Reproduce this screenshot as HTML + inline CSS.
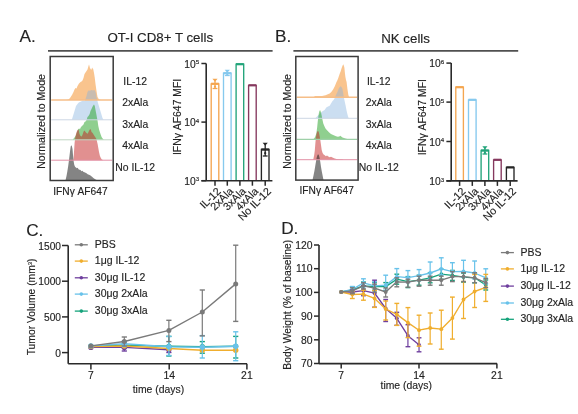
<!DOCTYPE html>
<html><head><meta charset="utf-8"><style>
html,body{margin:0;padding:0;background:#fff;width:578px;height:414px;overflow:hidden}
svg{display:block;filter:blur(0.35px)}
text{font-family:"Liberation Sans", sans-serif;stroke:#222;stroke-width:0.14px;paint-order:stroke}
</style></head><body>
<svg width="578" height="414" viewBox="0 0 578 414">
<rect width="578" height="414" fill="#fff"/>
<text x="19.5" y="42.3" font-size="17.2" text-anchor="start" fill="#222" >A.</text>
<text x="160.3" y="41.6" font-size="13.3" text-anchor="middle" fill="#222" >OT-I CD8+ T cells</text>
<line x1="48" y1="50.8" x2="272.6" y2="50.8" stroke="#505050" stroke-width="1.7" />
<text x="275" y="42.3" font-size="17.2" text-anchor="start" fill="#222" >B.</text>
<text x="405.6" y="42.8" font-size="13.3" text-anchor="middle" fill="#222" >NK cells</text>
<line x1="293.4" y1="50.9" x2="518.2" y2="50.9" stroke="#505050" stroke-width="1.7" />
<polygon points="66.0,100.0 66.0,100.0 68.6,99.5 70.0,98.0 72.0,95.0 73.5,92.0 74.5,89.5 75.5,88.0 76.5,88.5 77.5,86.0 79.0,83.5 80.5,82.0 81.5,81.5 82.5,80.5 83.5,78.0 84.5,74.0 85.5,72.5 86.5,71.0 87.5,69.5 88.5,66.0 89.0,64.5 89.6,66.5 90.3,69.5 91.0,68.0 91.8,70.0 92.5,67.5 93.3,69.5 94.0,73.0 94.8,78.0 95.5,84.0 96.5,91.0 97.5,97.0 99.0,99.5 101.0,100.0 101.0,100.0" fill="#F3891D" fill-opacity="0.5" stroke="none" stroke-width="0"/>
<polygon points="71.8,119.8 71.8,119.7 73.0,116.0 74.5,111.0 76.0,106.0 77.5,104.0 78.8,102.4 80.5,101.8 82.0,101.0 83.0,100.5 84.5,101.0 85.5,99.0 86.5,96.0 87.5,92.0 88.5,90.5 90.0,90.8 91.5,90.0 93.0,90.5 94.5,90.0 95.5,92.0 96.5,97.0 98.0,103.0 99.5,108.0 101.0,113.0 102.5,118.0 103.5,119.7 103.5,119.8" fill="#86B3DF" fill-opacity="0.43" stroke="none" stroke-width="0"/>
<polygon points="72.9,139.8 72.9,139.6 74.5,137.5 75.8,135.6 77.0,132.0 78.0,129.5 79.0,128.5 80.0,129.0 81.0,127.0 82.5,125.5 83.5,124.5 84.5,122.0 85.5,121.5 86.7,119.8 87.5,117.0 88.5,116.0 89.7,113.9 90.5,111.0 91.5,109.0 92.4,107.0 93.2,105.5 94.0,104.5 94.8,106.0 95.5,110.0 96.3,114.0 97.0,118.0 97.6,121.0 98.3,126.0 99.2,130.0 100.5,134.0 101.6,137.0 102.6,138.6 103.6,139.6 103.6,139.8" fill="#1F9F1F" fill-opacity="0.5" stroke="none" stroke-width="0"/>
<polygon points="73.5,160.2 73.5,160.0 74.0,152.0 74.6,143.0 75.2,138.0 76.0,134.0 76.8,131.5 77.6,130.0 78.6,129.5 79.5,134.0 80.5,136.0 81.8,136.6 82.8,134.0 83.6,131.5 84.6,130.5 85.5,132.0 86.5,133.0 87.7,133.7 88.7,131.5 89.8,129.5 90.8,129.3 91.5,132.0 92.6,133.0 93.7,134.7 94.8,136.5 95.8,138.0 96.6,139.8 97.6,144.0 98.3,148.0 99.0,152.0 99.8,155.5 100.6,157.6 101.6,159.3 102.8,160.0 102.8,160.2" fill="#C42222" fill-opacity="0.5" stroke="none" stroke-width="0"/>
<polygon points="65.5,180.5 65.5,180.2 66.5,176.0 67.4,171.0 68.2,166.0 69.0,160.0 69.6,155.0 70.2,150.0 70.7,146.5 71.3,145.3 71.9,146.2 72.5,149.0 73.0,155.0 73.6,161.0 74.3,165.0 75.2,167.0 76.0,167.5 76.8,168.3 77.7,167.8 78.5,169.3 79.5,169.8 80.5,170.0 81.5,171.2 82.5,170.7 83.5,172.0 84.5,172.3 85.5,172.8 86.5,173.3 87.7,174.2 89.0,174.8 90.5,175.6 92.0,176.8 93.7,178.2 95.2,179.3 97.0,180.2 97.0,180.5" fill="#262626" fill-opacity="0.57" stroke="none" stroke-width="0"/>
<line x1="51.2" y1="100" x2="112.2" y2="100" stroke="#F6BE88" stroke-width="1.4" />
<line x1="51.2" y1="119.8" x2="112.2" y2="119.8" stroke="#CCD6E4" stroke-width="1.0" />
<line x1="51.2" y1="139.8" x2="112.2" y2="139.8" stroke="#C0D6C4" stroke-width="1.0" />
<line x1="51.2" y1="160.2" x2="112.2" y2="160.2" stroke="#E290A6" stroke-width="1.0" />
<rect x="50.2" y="56.5" width="63" height="124" fill="none" stroke="#3a3a3a" stroke-width="1.5"/>
<polygon points="296.8,97.2 296.8,97.2 305.0,97.1 313.6,96.9 315.3,96.0 322.1,96.0 325.5,95.2 329.7,93.5 331.5,91.8 333.1,89.6 334.8,86.3 336.5,82.0 337.3,80.5 338.1,78.6 339.8,73.6 340.6,71.5 341.5,68.5 342.4,66.0 343.2,64.3 343.8,65.5 344.4,67.7 344.9,73.0 345.4,77.0 346.0,80.0 346.6,82.0 347.4,88.8 348.3,94.7 349.1,97.2 349.1,97.2" fill="#F3891D" fill-opacity="0.5" stroke="none" stroke-width="0"/>
<polygon points="315.3,118.3 315.3,118.3 318.5,115.0 322.1,111.6 324.6,109.9 326.3,107.4 328.0,106.5 329.7,105.7 331.0,103.5 332.2,101.5 333.5,100.0 334.8,98.1 336.0,95.0 337.3,92.2 338.2,90.0 339.0,87.9 339.8,87.0 340.7,86.3 341.5,87.0 342.4,88.8 343.1,92.5 343.7,96.4 344.3,99.5 344.9,102.3 345.8,106.5 346.6,110.7 347.5,114.5 348.3,117.5 349.1,118.3 349.1,118.3" fill="#86B3DF" fill-opacity="0.43" stroke="none" stroke-width="0"/>
<polygon points="313.2,139.4 313.2,139.4 314.5,138.0 315.5,136.0 316.4,133.0 317.1,128.0 317.7,122.0 318.3,117.0 318.9,113.0 319.5,110.8 320.2,110.2 320.9,112.0 321.5,114.7 322.3,119.0 323.3,123.5 324.3,126.0 325.5,128.5 326.8,130.1 328.2,131.5 329.5,132.8 331.0,134.0 332.6,134.8 334.3,135.5 336.0,136.3 337.8,136.7 339.3,136.5 340.3,135.8 341.2,136.6 342.5,137.5 344.0,138.0 346.1,138.8 349.0,139.2 353.8,139.4 353.8,139.4" fill="#1F9F1F" fill-opacity="0.5" stroke="none" stroke-width="0"/>
<polygon points="313.2,159.7 313.2,159.7 314.2,155.0 314.8,150.5 315.4,143.0 316.0,137.0 316.7,133.0 317.4,131.3 318.2,131.0 318.9,132.5 319.6,136.0 320.3,140.0 321.0,145.0 321.7,150.0 322.6,153.0 323.6,154.5 324.8,155.2 325.8,156.3 327.0,155.6 328.3,156.5 329.7,157.2 331.0,156.8 332.5,157.6 334.0,158.3 336.4,158.9 339.0,159.3 342.2,159.2 343.5,159.7 343.5,159.7" fill="#C42222" fill-opacity="0.5" stroke="none" stroke-width="0"/>
<polygon points="312.5,180.1 312.5,180.1 313.5,175.5 314.4,171.0 315.1,166.9 315.9,162.0 316.7,157.5 317.5,155.0 318.1,154.3 318.8,155.0 319.5,157.5 320.3,162.0 321.0,166.9 321.8,171.5 322.6,175.5 323.5,180.1 323.5,180.1" fill="#262626" fill-opacity="0.57" stroke="none" stroke-width="0"/>
<line x1="296.8" y1="97.2" x2="357.1" y2="97.2" stroke="#F6BE88" stroke-width="1.4" />
<line x1="296.8" y1="118.3" x2="357.1" y2="118.3" stroke="#CCD6E4" stroke-width="1.0" />
<line x1="296.8" y1="139.4" x2="357.1" y2="139.4" stroke="#9ED0A8" stroke-width="1.1" />
<line x1="296.8" y1="159.7" x2="357.1" y2="159.7" stroke="#E290A6" stroke-width="1.0" />
<rect x="295.8" y="56.5" width="62.3" height="123.6" fill="none" stroke="#3a3a3a" stroke-width="1.5"/>
<text x="135.2" y="85" font-size="10.4" text-anchor="middle" fill="#222" >IL-12</text>
<text x="135.2" y="106.1" font-size="10.4" text-anchor="middle" fill="#222" >2xAla</text>
<text x="135.2" y="127.8" font-size="10.4" text-anchor="middle" fill="#222" >3xAla</text>
<text x="135.2" y="148.6" font-size="10.4" text-anchor="middle" fill="#222" >4xAla</text>
<text x="135.2" y="170.7" font-size="10.4" text-anchor="middle" fill="#222" >No IL-12</text>
<text x="378.8" y="85" font-size="10.4" text-anchor="middle" fill="#222" >IL-12</text>
<text x="378.8" y="106.1" font-size="10.4" text-anchor="middle" fill="#222" >2xAla</text>
<text x="378.8" y="127.8" font-size="10.4" text-anchor="middle" fill="#222" >3xAla</text>
<text x="378.8" y="148.6" font-size="10.4" text-anchor="middle" fill="#222" >4xAla</text>
<text x="378.8" y="170.7" font-size="10.4" text-anchor="middle" fill="#222" >No IL-12</text>
<text x="45.3" y="121.4" font-size="10.6" text-anchor="middle" fill="#222" transform="rotate(-90 45.3 121.4)">Normalized to Mode</text>
<text x="290.9" y="121.4" font-size="10.6" text-anchor="middle" fill="#222" transform="rotate(-90 290.9 121.4)">Normalized to Mode</text>
<text x="80.4" y="194.5" font-size="10.2" text-anchor="middle" fill="#222" >IFNγ AF647</text>
<text x="326.7" y="194.0" font-size="10.2" text-anchor="middle" fill="#222" >IFNγ AF647</text>
<line x1="201.39999999999998" y1="63.5" x2="206.2" y2="63.5" stroke="#2a2a2a" stroke-width="1.5" />
<text x="199.2" y="67.8" font-size="10.3" text-anchor="end" fill="#222">10<tspan dy="-3.6" font-size="6.2">5</tspan></text>
<line x1="201.39999999999998" y1="122.1" x2="206.2" y2="122.1" stroke="#2a2a2a" stroke-width="1.5" />
<text x="199.2" y="126.39999999999999" font-size="10.3" text-anchor="end" fill="#222">10<tspan dy="-3.6" font-size="6.2">4</tspan></text>
<line x1="201.39999999999998" y1="180.7" x2="206.2" y2="180.7" stroke="#2a2a2a" stroke-width="1.5" />
<text x="199.2" y="185.0" font-size="10.3" text-anchor="end" fill="#222">10<tspan dy="-3.6" font-size="6.2">3</tspan></text>
<path d="M211.2,180.7 V83.8 H218.8 V180.7" fill="none" stroke="#F4A650" stroke-width="1.35"/>
<line x1="211.1" y1="83.8" x2="218.9" y2="83.8" stroke="#F4A650" stroke-width="2.2" />
<line x1="215" y1="79.5" x2="215" y2="88.5" stroke="#F4A650" stroke-width="1.3" />
<line x1="212.6" y1="88.5" x2="217.4" y2="88.5" stroke="#F4A650" stroke-width="1.3" />
<polygon points="212.4,78.7 217.6,78.7 215.0,81.7" fill="#F4A650"/>
<circle cx="215" cy="86.7" r="1.1" fill="#F4A650"/>
<line x1="215" y1="180.7" x2="215" y2="185.7" stroke="#2a2a2a" stroke-width="1.5" />
<path d="M223.5,180.7 V73.2 H231.10000000000002 V180.7" fill="none" stroke="#86C9EE" stroke-width="1.35"/>
<line x1="223.4" y1="73.2" x2="231.20000000000002" y2="73.2" stroke="#86C9EE" stroke-width="2.2" />
<line x1="227.3" y1="70.6" x2="227.3" y2="75.5" stroke="#86C9EE" stroke-width="1.3" />
<line x1="224.9" y1="75.5" x2="229.70000000000002" y2="75.5" stroke="#86C9EE" stroke-width="1.3" />
<polygon points="224.7,69.8 229.9,69.8 227.3,72.8" fill="#86C9EE"/>
<circle cx="227.3" cy="74.8" r="1.1" fill="#86C9EE"/>
<line x1="227.3" y1="180.7" x2="227.3" y2="185.7" stroke="#2a2a2a" stroke-width="1.5" />
<path d="M236.1,180.7 V64.2 H243.70000000000002 V180.7" fill="none" stroke="#22A47A" stroke-width="1.35"/>
<line x1="236.0" y1="64.2" x2="243.8" y2="64.2" stroke="#22A47A" stroke-width="2.2" />
<line x1="239.9" y1="180.7" x2="239.9" y2="185.7" stroke="#2a2a2a" stroke-width="1.5" />
<path d="M248.6,180.7 V85.3 H256.2 V180.7" fill="none" stroke="#86385E" stroke-width="1.35"/>
<line x1="248.5" y1="85.3" x2="256.3" y2="85.3" stroke="#86385E" stroke-width="2.2" />
<line x1="252.4" y1="180.7" x2="252.4" y2="185.7" stroke="#2a2a2a" stroke-width="1.5" />
<path d="M261.4,180.7 V149.5 H269.0 V180.7" fill="none" stroke="#262626" stroke-width="1.35"/>
<line x1="261.3" y1="149.5" x2="269.09999999999997" y2="149.5" stroke="#262626" stroke-width="2.2" />
<line x1="265.2" y1="143.5" x2="265.2" y2="156" stroke="#262626" stroke-width="1.3" />
<line x1="262.8" y1="156" x2="267.59999999999997" y2="156" stroke="#262626" stroke-width="1.3" />
<polygon points="262.6,142.7 267.8,142.7 265.2,145.7" fill="#262626"/>
<circle cx="265.2" cy="153.2" r="1.1" fill="#262626"/>
<line x1="265.2" y1="180.7" x2="265.2" y2="185.7" stroke="#2a2a2a" stroke-width="1.5" />
<line x1="206.2" y1="63.5" x2="206.2" y2="180.7" stroke="#2a2a2a" stroke-width="1.6" />
<line x1="201.39999999999998" y1="180.7" x2="272.4" y2="180.7" stroke="#2a2a2a" stroke-width="1.6" />
<text x="221.6" y="191.9" font-size="10.8" text-anchor="end" fill="#222" transform="rotate(-45 221.6 191.89999999999998)">IL-12</text>
<text x="233.9" y="191.9" font-size="10.8" text-anchor="end" fill="#222" transform="rotate(-45 233.9 191.89999999999998)">2xAla</text>
<text x="246.5" y="191.9" font-size="10.8" text-anchor="end" fill="#222" transform="rotate(-45 246.5 191.89999999999998)">3xAla</text>
<text x="259.0" y="191.9" font-size="10.8" text-anchor="end" fill="#222" transform="rotate(-45 259.0 191.89999999999998)">4xAla</text>
<text x="271.8" y="191.9" font-size="10.8" text-anchor="end" fill="#222" transform="rotate(-45 271.8 191.89999999999998)">No IL-12</text>
<text x="181.3" y="116.9" font-size="10.4" text-anchor="middle" fill="#222" transform="rotate(-90 181.3 116.9)">IFNγ AF647 MFI</text>
<line x1="446.4" y1="63.1" x2="451.2" y2="63.1" stroke="#2a2a2a" stroke-width="1.5" />
<text x="444.2" y="67.4" font-size="10.3" text-anchor="end" fill="#222">10<tspan dy="-3.6" font-size="6.2">6</tspan></text>
<line x1="446.4" y1="102.1" x2="451.2" y2="102.1" stroke="#2a2a2a" stroke-width="1.5" />
<text x="444.2" y="106.39999999999999" font-size="10.3" text-anchor="end" fill="#222">10<tspan dy="-3.6" font-size="6.2">5</tspan></text>
<line x1="446.4" y1="141.5" x2="451.2" y2="141.5" stroke="#2a2a2a" stroke-width="1.5" />
<text x="444.2" y="145.8" font-size="10.3" text-anchor="end" fill="#222">10<tspan dy="-3.6" font-size="6.2">4</tspan></text>
<line x1="446.4" y1="180.9" x2="451.2" y2="180.9" stroke="#2a2a2a" stroke-width="1.5" />
<text x="444.2" y="185.20000000000002" font-size="10.3" text-anchor="end" fill="#222">10<tspan dy="-3.6" font-size="6.2">3</tspan></text>
<path d="M455.8,180.9 V87.2 H463.40000000000003 V180.9" fill="none" stroke="#F4A650" stroke-width="1.35"/>
<line x1="455.70000000000005" y1="87.2" x2="463.5" y2="87.2" stroke="#F4A650" stroke-width="2.2" />
<line x1="459.6" y1="180.9" x2="459.6" y2="185.9" stroke="#2a2a2a" stroke-width="1.5" />
<path d="M468.5,180.9 V99.8 H476.1 V180.9" fill="none" stroke="#86C9EE" stroke-width="1.35"/>
<line x1="468.40000000000003" y1="99.8" x2="476.2" y2="99.8" stroke="#86C9EE" stroke-width="2.2" />
<line x1="472.3" y1="180.9" x2="472.3" y2="185.9" stroke="#2a2a2a" stroke-width="1.5" />
<path d="M481.09999999999997,180.9 V150.5 H488.7 V180.9" fill="none" stroke="#22A47A" stroke-width="1.35"/>
<line x1="481.0" y1="150.5" x2="488.79999999999995" y2="150.5" stroke="#22A47A" stroke-width="2.2" />
<line x1="484.9" y1="147" x2="484.9" y2="154" stroke="#22A47A" stroke-width="1.3" />
<line x1="482.5" y1="154" x2="487.29999999999995" y2="154" stroke="#22A47A" stroke-width="1.3" />
<polygon points="482.3,146.2 487.5,146.2 484.9,149.2" fill="#22A47A"/>
<circle cx="484.9" cy="152.8" r="1.1" fill="#22A47A"/>
<line x1="484.9" y1="180.9" x2="484.9" y2="185.9" stroke="#2a2a2a" stroke-width="1.5" />
<path d="M493.59999999999997,180.9 V159.8 H501.2 V180.9" fill="none" stroke="#86385E" stroke-width="1.35"/>
<line x1="493.5" y1="159.8" x2="501.29999999999995" y2="159.8" stroke="#86385E" stroke-width="2.2" />
<line x1="497.4" y1="180.9" x2="497.4" y2="185.9" stroke="#2a2a2a" stroke-width="1.5" />
<path d="M506.4,180.9 V167.4 H514.0 V180.9" fill="none" stroke="#262626" stroke-width="1.35"/>
<line x1="506.3" y1="167.4" x2="514.1" y2="167.4" stroke="#262626" stroke-width="2.2" />
<line x1="510.2" y1="180.9" x2="510.2" y2="185.9" stroke="#2a2a2a" stroke-width="1.5" />
<line x1="451.2" y1="63.1" x2="451.2" y2="180.9" stroke="#2a2a2a" stroke-width="1.6" />
<line x1="446.4" y1="180.9" x2="517.6" y2="180.9" stroke="#2a2a2a" stroke-width="1.6" />
<text x="466.2" y="192.1" font-size="10.8" text-anchor="end" fill="#222" transform="rotate(-45 466.20000000000005 192.1)">IL-12</text>
<text x="478.9" y="192.1" font-size="10.8" text-anchor="end" fill="#222" transform="rotate(-45 478.90000000000003 192.1)">2xAla</text>
<text x="491.5" y="192.1" font-size="10.8" text-anchor="end" fill="#222" transform="rotate(-45 491.5 192.1)">3xAla</text>
<text x="504.0" y="192.1" font-size="10.8" text-anchor="end" fill="#222" transform="rotate(-45 504.0 192.1)">4xAla</text>
<text x="516.8" y="192.1" font-size="10.8" text-anchor="end" fill="#222" transform="rotate(-45 516.8 192.1)">No IL-12</text>
<text x="425.7" y="117.2" font-size="10.4" text-anchor="middle" fill="#222" transform="rotate(-90 425.7 117.2)">IFNγ AF647 MFI</text>
<text x="26.2" y="235.6" font-size="17.2" text-anchor="start" fill="#222" >C.</text>
<line x1="68.2" y1="245.5" x2="68.2" y2="363.8" stroke="#2a2a2a" stroke-width="1.6" />
<line x1="68.2" y1="363.8" x2="247" y2="363.8" stroke="#2a2a2a" stroke-width="1.6" />
<line x1="62.0" y1="245.5" x2="68.2" y2="245.5" stroke="#2a2a2a" stroke-width="1.5" />
<text x="61.0" y="249.7" font-size="10.2" text-anchor="end" fill="#222" >1500</text>
<line x1="62.0" y1="281.2" x2="68.2" y2="281.2" stroke="#2a2a2a" stroke-width="1.5" />
<text x="61.0" y="285.4" font-size="10.2" text-anchor="end" fill="#222" >1000</text>
<line x1="62.0" y1="316.9" x2="68.2" y2="316.9" stroke="#2a2a2a" stroke-width="1.5" />
<text x="61.0" y="321.09999999999997" font-size="10.2" text-anchor="end" fill="#222" >500</text>
<line x1="62.0" y1="352.6" x2="68.2" y2="352.6" stroke="#2a2a2a" stroke-width="1.5" />
<text x="61.0" y="356.8" font-size="10.2" text-anchor="end" fill="#222" >0</text>
<line x1="90.9" y1="363.8" x2="90.9" y2="369.5" stroke="#2a2a2a" stroke-width="1.5" />
<text x="90.9" y="379.2" font-size="10.4" text-anchor="middle" fill="#222" >7</text>
<line x1="169.2" y1="363.8" x2="169.2" y2="369.5" stroke="#2a2a2a" stroke-width="1.5" />
<text x="169.2" y="379.2" font-size="10.4" text-anchor="middle" fill="#222" >14</text>
<line x1="246.9" y1="363.8" x2="246.9" y2="369.5" stroke="#2a2a2a" stroke-width="1.5" />
<text x="246.9" y="379.2" font-size="10.4" text-anchor="middle" fill="#222" >21</text>
<text x="158.4" y="393.4" font-size="10.4" text-anchor="middle" fill="#222" >time (days)</text>
<text x="35.5" y="306.9" font-size="10.3" text-anchor="middle" fill="#222" transform="rotate(-90 35.5 306.9)">Tumor Volume (mm<tspan dy="-3.5" font-size="6">3</tspan><tspan dy="3.5">)</tspan></text>
<line x1="74.8" y1="244.8" x2="87.8" y2="244.8" stroke="#7A7A7A" stroke-width="1.3" />
<circle cx="81.3" cy="244.8" r="1.8" fill="#7A7A7A"/>
<text x="94.8" y="247.9" font-size="10.5" text-anchor="start" fill="#222" >PBS</text>
<line x1="74.8" y1="261.1" x2="87.8" y2="261.1" stroke="#F0AE2E" stroke-width="1.3" />
<circle cx="81.3" cy="261.1" r="1.8" fill="#F0AE2E"/>
<text x="94.8" y="264.20000000000005" font-size="10.5" text-anchor="start" fill="#222" >1μg IL-12</text>
<line x1="74.8" y1="277.8" x2="87.8" y2="277.8" stroke="#6F3F9E" stroke-width="1.3" />
<circle cx="81.3" cy="277.8" r="1.8" fill="#6F3F9E"/>
<text x="94.8" y="280.90000000000003" font-size="10.5" text-anchor="start" fill="#222" >30μg IL-12</text>
<line x1="74.8" y1="294.1" x2="87.8" y2="294.1" stroke="#68C2EA" stroke-width="1.3" />
<circle cx="81.3" cy="294.1" r="1.8" fill="#68C2EA"/>
<text x="94.8" y="297.20000000000005" font-size="10.5" text-anchor="start" fill="#222" >30μg 2xAla</text>
<line x1="74.8" y1="311.1" x2="87.8" y2="311.1" stroke="#15A37B" stroke-width="1.3" />
<circle cx="81.3" cy="311.1" r="1.8" fill="#15A37B"/>
<text x="94.8" y="314.20000000000005" font-size="10.5" text-anchor="start" fill="#222" >30μg 3xAla</text>
<line x1="124.32000000000001" y1="342" x2="124.32000000000001" y2="348" stroke="#15A37B" stroke-width="1.2" />
<line x1="121.72000000000001" y1="342" x2="126.92" y2="342" stroke="#15A37B" stroke-width="1.4" />
<line x1="121.72000000000001" y1="348" x2="126.92" y2="348" stroke="#15A37B" stroke-width="1.4" />
<line x1="168.88" y1="336.4" x2="168.88" y2="356" stroke="#15A37B" stroke-width="1.2" />
<line x1="166.28" y1="336.4" x2="171.48" y2="336.4" stroke="#15A37B" stroke-width="1.4" />
<line x1="166.28" y1="356" x2="171.48" y2="356" stroke="#15A37B" stroke-width="1.4" />
<line x1="202.3" y1="341.6" x2="202.3" y2="353.2" stroke="#15A37B" stroke-width="1.2" />
<line x1="199.70000000000002" y1="341.6" x2="204.9" y2="341.6" stroke="#15A37B" stroke-width="1.4" />
<line x1="199.70000000000002" y1="353.2" x2="204.9" y2="353.2" stroke="#15A37B" stroke-width="1.4" />
<line x1="235.72" y1="336.4" x2="235.72" y2="358" stroke="#15A37B" stroke-width="1.2" />
<line x1="233.12" y1="336.4" x2="238.32" y2="336.4" stroke="#15A37B" stroke-width="1.4" />
<line x1="233.12" y1="358" x2="238.32" y2="358" stroke="#15A37B" stroke-width="1.4" />
<polyline points="90.9,346.3 124.3,345.3 168.9,346.3 202.3,346.7 235.7,346.3" fill="none" stroke="#15A37B" stroke-width="1.4" stroke-linejoin="round"/>
<circle cx="90.9" cy="346.3" r="2.6" fill="#15A37B"/>
<circle cx="124.3" cy="345.3" r="2.6" fill="#15A37B"/>
<circle cx="168.9" cy="346.3" r="2.6" fill="#15A37B"/>
<circle cx="202.3" cy="346.7" r="2.6" fill="#15A37B"/>
<circle cx="235.7" cy="346.3" r="2.6" fill="#15A37B"/>
<line x1="124.32000000000001" y1="344" x2="124.32000000000001" y2="351" stroke="#6F3F9E" stroke-width="1.2" />
<line x1="121.72000000000001" y1="344" x2="126.92" y2="344" stroke="#6F3F9E" stroke-width="1.4" />
<line x1="121.72000000000001" y1="351" x2="126.92" y2="351" stroke="#6F3F9E" stroke-width="1.4" />
<line x1="168.88" y1="347" x2="168.88" y2="352.5" stroke="#6F3F9E" stroke-width="1.2" />
<line x1="166.28" y1="347" x2="171.48" y2="347" stroke="#6F3F9E" stroke-width="1.4" />
<line x1="166.28" y1="352.5" x2="171.48" y2="352.5" stroke="#6F3F9E" stroke-width="1.4" />
<polyline points="90.9,347.4 124.3,347.4 168.9,349.8" fill="none" stroke="#6F3F9E" stroke-width="1.4" stroke-linejoin="round"/>
<circle cx="90.9" cy="347.4" r="2.6" fill="#6F3F9E"/>
<circle cx="124.3" cy="347.4" r="2.6" fill="#6F3F9E"/>
<circle cx="168.9" cy="349.8" r="2.6" fill="#6F3F9E"/>
<polyline points="90.9,346.5 124.3,346.0 168.9,348.5 202.3,350.3 235.7,350.3" fill="none" stroke="#F0AE2E" stroke-width="1.4" stroke-linejoin="round"/>
<circle cx="90.9" cy="346.5" r="2.7" fill="#F0AE2E"/>
<circle cx="124.3" cy="346.0" r="2.7" fill="#F0AE2E"/>
<circle cx="168.9" cy="348.5" r="2.7" fill="#F0AE2E"/>
<circle cx="202.3" cy="350.3" r="2.7" fill="#F0AE2E"/>
<circle cx="235.7" cy="350.3" r="2.7" fill="#F0AE2E"/>
<line x1="124.32000000000001" y1="341" x2="124.32000000000001" y2="346.5" stroke="#68C2EA" stroke-width="1.2" />
<line x1="121.72000000000001" y1="341" x2="126.92" y2="341" stroke="#68C2EA" stroke-width="1.4" />
<line x1="121.72000000000001" y1="346.5" x2="126.92" y2="346.5" stroke="#68C2EA" stroke-width="1.4" />
<line x1="168.88" y1="336.4" x2="168.88" y2="355.5" stroke="#68C2EA" stroke-width="1.2" />
<line x1="166.28" y1="336.4" x2="171.48" y2="336.4" stroke="#68C2EA" stroke-width="1.4" />
<line x1="166.28" y1="355.5" x2="171.48" y2="355.5" stroke="#68C2EA" stroke-width="1.4" />
<line x1="202.3" y1="335.6" x2="202.3" y2="358" stroke="#68C2EA" stroke-width="1.2" />
<line x1="199.70000000000002" y1="335.6" x2="204.9" y2="335.6" stroke="#68C2EA" stroke-width="1.4" />
<line x1="199.70000000000002" y1="358" x2="204.9" y2="358" stroke="#68C2EA" stroke-width="1.4" />
<line x1="235.72" y1="331.8" x2="235.72" y2="360.7" stroke="#68C2EA" stroke-width="1.2" />
<line x1="233.12" y1="331.8" x2="238.32" y2="331.8" stroke="#68C2EA" stroke-width="1.4" />
<line x1="233.12" y1="360.7" x2="238.32" y2="360.7" stroke="#68C2EA" stroke-width="1.4" />
<polyline points="90.9,345.9 124.3,343.8 168.9,346.8 202.3,347.2 235.7,346.3" fill="none" stroke="#68C2EA" stroke-width="1.4" stroke-linejoin="round"/>
<circle cx="90.9" cy="345.9" r="2.7" fill="#68C2EA"/>
<circle cx="124.3" cy="343.8" r="2.7" fill="#68C2EA"/>
<circle cx="168.9" cy="346.8" r="2.7" fill="#68C2EA"/>
<circle cx="202.3" cy="347.2" r="2.7" fill="#68C2EA"/>
<circle cx="235.7" cy="346.3" r="2.7" fill="#68C2EA"/>
<line x1="124.32000000000001" y1="337" x2="124.32000000000001" y2="346" stroke="#7A7A7A" stroke-width="1.2" />
<line x1="121.72000000000001" y1="337" x2="126.92" y2="337" stroke="#7A7A7A" stroke-width="1.4" />
<line x1="121.72000000000001" y1="346" x2="126.92" y2="346" stroke="#7A7A7A" stroke-width="1.4" />
<line x1="168.88" y1="320.3" x2="168.88" y2="341.6" stroke="#7A7A7A" stroke-width="1.2" />
<line x1="166.28" y1="320.3" x2="171.48" y2="320.3" stroke="#7A7A7A" stroke-width="1.4" />
<line x1="166.28" y1="341.6" x2="171.48" y2="341.6" stroke="#7A7A7A" stroke-width="1.4" />
<line x1="202.3" y1="290" x2="202.3" y2="335.9" stroke="#7A7A7A" stroke-width="1.2" />
<line x1="199.70000000000002" y1="290" x2="204.9" y2="290" stroke="#7A7A7A" stroke-width="1.4" />
<line x1="199.70000000000002" y1="335.9" x2="204.9" y2="335.9" stroke="#7A7A7A" stroke-width="1.4" />
<line x1="235.72" y1="245.2" x2="235.72" y2="321.4" stroke="#7A7A7A" stroke-width="1.2" />
<line x1="233.12" y1="245.2" x2="238.32" y2="245.2" stroke="#7A7A7A" stroke-width="1.4" />
<line x1="233.12" y1="321.4" x2="238.32" y2="321.4" stroke="#7A7A7A" stroke-width="1.4" />
<polyline points="90.9,345.9 124.3,341.5 168.9,330.4 202.3,312.0 235.7,283.9" fill="none" stroke="#7A7A7A" stroke-width="1.4" stroke-linejoin="round"/>
<circle cx="90.9" cy="345.9" r="2.5" fill="#7A7A7A"/>
<circle cx="124.3" cy="341.5" r="2.5" fill="#7A7A7A"/>
<circle cx="168.9" cy="330.4" r="2.5" fill="#7A7A7A"/>
<circle cx="202.3" cy="312.0" r="2.5" fill="#7A7A7A"/>
<circle cx="235.7" cy="283.9" r="2.5" fill="#7A7A7A"/>
<text x="281.2" y="233.8" font-size="17.2" text-anchor="start" fill="#222" >D.</text>
<line x1="319" y1="245" x2="319" y2="363.6" stroke="#2a2a2a" stroke-width="1.6" />
<line x1="319" y1="363.6" x2="497" y2="363.6" stroke="#2a2a2a" stroke-width="1.6" />
<line x1="314.0" y1="245" x2="319" y2="245" stroke="#2a2a2a" stroke-width="1.5" />
<text x="312.6" y="248.7" font-size="10.4" text-anchor="end" fill="#222" >120</text>
<line x1="314.0" y1="268.7" x2="319" y2="268.7" stroke="#2a2a2a" stroke-width="1.5" />
<text x="312.6" y="272.4" font-size="10.4" text-anchor="end" fill="#222" >110</text>
<line x1="314.0" y1="292.4" x2="319" y2="292.4" stroke="#2a2a2a" stroke-width="1.5" />
<text x="312.6" y="296.09999999999997" font-size="10.4" text-anchor="end" fill="#222" >100</text>
<line x1="314.0" y1="316.1" x2="319" y2="316.1" stroke="#2a2a2a" stroke-width="1.5" />
<text x="312.6" y="319.8" font-size="10.4" text-anchor="end" fill="#222" >90</text>
<line x1="314.0" y1="339.8" x2="319" y2="339.8" stroke="#2a2a2a" stroke-width="1.5" />
<text x="312.6" y="343.5" font-size="10.4" text-anchor="end" fill="#222" >80</text>
<line x1="314.0" y1="363.5" x2="319" y2="363.5" stroke="#2a2a2a" stroke-width="1.5" />
<text x="312.6" y="367.2" font-size="10.4" text-anchor="end" fill="#222" >70</text>
<line x1="341.2" y1="363.6" x2="341.2" y2="368.4" stroke="#2a2a2a" stroke-width="1.5" />
<text x="341.2" y="378.6" font-size="10.4" text-anchor="middle" fill="#222" >7</text>
<line x1="419" y1="363.6" x2="419" y2="368.4" stroke="#2a2a2a" stroke-width="1.5" />
<text x="419" y="378.6" font-size="10.4" text-anchor="middle" fill="#222" >14</text>
<line x1="496.9" y1="363.6" x2="496.9" y2="368.4" stroke="#2a2a2a" stroke-width="1.5" />
<text x="496.9" y="378.6" font-size="10.4" text-anchor="middle" fill="#222" >21</text>
<text x="406.2" y="388.6" font-size="10.4" text-anchor="middle" fill="#222" >time (days)</text>
<text x="291.0" y="304.8" font-size="10.3" text-anchor="middle" fill="#222" transform="rotate(-90 291.0 304.8)">Body Weight (% of baseline)</text>
<line x1="500.9" y1="252.6" x2="513.9" y2="252.6" stroke="#7A7A7A" stroke-width="1.3" />
<circle cx="507.4" cy="252.6" r="1.8" fill="#7A7A7A"/>
<text x="520.4" y="255.7" font-size="10.5" text-anchor="start" fill="#222" >PBS</text>
<line x1="500.9" y1="268.9" x2="513.9" y2="268.9" stroke="#F0AE2E" stroke-width="1.3" />
<circle cx="507.4" cy="268.9" r="1.8" fill="#F0AE2E"/>
<text x="520.4" y="272.0" font-size="10.5" text-anchor="start" fill="#222" >1μg IL-12</text>
<line x1="500.9" y1="286.1" x2="513.9" y2="286.1" stroke="#6F3F9E" stroke-width="1.3" />
<circle cx="507.4" cy="286.1" r="1.8" fill="#6F3F9E"/>
<text x="520.4" y="289.20000000000005" font-size="10.5" text-anchor="start" fill="#222" >30μg IL-12</text>
<line x1="500.9" y1="303" x2="513.9" y2="303" stroke="#68C2EA" stroke-width="1.3" />
<circle cx="507.4" cy="303" r="1.8" fill="#68C2EA"/>
<text x="520.4" y="306.1" font-size="10.5" text-anchor="start" fill="#222" >30μg 2xAla</text>
<line x1="500.9" y1="319.3" x2="513.9" y2="319.3" stroke="#15A37B" stroke-width="1.3" />
<circle cx="507.4" cy="319.3" r="1.8" fill="#15A37B"/>
<text x="520.4" y="322.40000000000003" font-size="10.5" text-anchor="start" fill="#222" >30μg 3xAla</text>
<line x1="352.32" y1="286.8" x2="352.32" y2="292.8" stroke="#15A37B" stroke-width="1.2" />
<line x1="349.92" y1="286.8" x2="354.71999999999997" y2="286.8" stroke="#15A37B" stroke-width="1.4" />
<line x1="349.92" y1="292.8" x2="354.71999999999997" y2="292.8" stroke="#15A37B" stroke-width="1.4" />
<line x1="363.44" y1="282" x2="363.44" y2="290" stroke="#15A37B" stroke-width="1.2" />
<line x1="361.04" y1="282" x2="365.84" y2="282" stroke="#15A37B" stroke-width="1.4" />
<line x1="361.04" y1="290" x2="365.84" y2="290" stroke="#15A37B" stroke-width="1.4" />
<line x1="374.56" y1="282.6" x2="374.56" y2="290.6" stroke="#15A37B" stroke-width="1.2" />
<line x1="372.16" y1="282.6" x2="376.96" y2="282.6" stroke="#15A37B" stroke-width="1.4" />
<line x1="372.16" y1="290.6" x2="376.96" y2="290.6" stroke="#15A37B" stroke-width="1.4" />
<line x1="385.68" y1="282.6" x2="385.68" y2="290.6" stroke="#15A37B" stroke-width="1.2" />
<line x1="383.28000000000003" y1="282.6" x2="388.08" y2="282.6" stroke="#15A37B" stroke-width="1.4" />
<line x1="383.28000000000003" y1="290.6" x2="388.08" y2="290.6" stroke="#15A37B" stroke-width="1.4" />
<line x1="396.79999999999995" y1="274.2" x2="396.79999999999995" y2="284.2" stroke="#15A37B" stroke-width="1.2" />
<line x1="394.4" y1="274.2" x2="399.19999999999993" y2="274.2" stroke="#15A37B" stroke-width="1.4" />
<line x1="394.4" y1="284.2" x2="399.19999999999993" y2="284.2" stroke="#15A37B" stroke-width="1.4" />
<line x1="407.91999999999996" y1="276.6" x2="407.91999999999996" y2="287.6" stroke="#15A37B" stroke-width="1.2" />
<line x1="405.52" y1="276.6" x2="410.31999999999994" y2="276.6" stroke="#15A37B" stroke-width="1.4" />
<line x1="405.52" y1="287.6" x2="410.31999999999994" y2="287.6" stroke="#15A37B" stroke-width="1.4" />
<line x1="419.03999999999996" y1="275.2" x2="419.03999999999996" y2="285.2" stroke="#15A37B" stroke-width="1.2" />
<line x1="416.64" y1="275.2" x2="421.43999999999994" y2="275.2" stroke="#15A37B" stroke-width="1.4" />
<line x1="416.64" y1="285.2" x2="421.43999999999994" y2="285.2" stroke="#15A37B" stroke-width="1.4" />
<line x1="430.15999999999997" y1="272.8" x2="430.15999999999997" y2="282.8" stroke="#15A37B" stroke-width="1.2" />
<line x1="427.76" y1="272.8" x2="432.55999999999995" y2="272.8" stroke="#15A37B" stroke-width="1.4" />
<line x1="427.76" y1="282.8" x2="432.55999999999995" y2="282.8" stroke="#15A37B" stroke-width="1.4" />
<line x1="441.28" y1="269.2" x2="441.28" y2="279.2" stroke="#15A37B" stroke-width="1.2" />
<line x1="438.88" y1="269.2" x2="443.67999999999995" y2="269.2" stroke="#15A37B" stroke-width="1.4" />
<line x1="438.88" y1="279.2" x2="443.67999999999995" y2="279.2" stroke="#15A37B" stroke-width="1.4" />
<line x1="452.4" y1="270.4" x2="452.4" y2="280.4" stroke="#15A37B" stroke-width="1.2" />
<line x1="450.0" y1="270.4" x2="454.79999999999995" y2="270.4" stroke="#15A37B" stroke-width="1.4" />
<line x1="450.0" y1="280.4" x2="454.79999999999995" y2="280.4" stroke="#15A37B" stroke-width="1.4" />
<line x1="463.52" y1="273.1" x2="463.52" y2="282.1" stroke="#15A37B" stroke-width="1.2" />
<line x1="461.12" y1="273.1" x2="465.91999999999996" y2="273.1" stroke="#15A37B" stroke-width="1.4" />
<line x1="461.12" y1="282.1" x2="465.91999999999996" y2="282.1" stroke="#15A37B" stroke-width="1.4" />
<line x1="474.64" y1="272.8" x2="474.64" y2="282.8" stroke="#15A37B" stroke-width="1.2" />
<line x1="472.24" y1="272.8" x2="477.03999999999996" y2="272.8" stroke="#15A37B" stroke-width="1.4" />
<line x1="472.24" y1="282.8" x2="477.03999999999996" y2="282.8" stroke="#15A37B" stroke-width="1.4" />
<line x1="485.76" y1="280" x2="485.76" y2="290" stroke="#15A37B" stroke-width="1.2" />
<line x1="483.36" y1="280" x2="488.15999999999997" y2="280" stroke="#15A37B" stroke-width="1.4" />
<line x1="483.36" y1="290" x2="488.15999999999997" y2="290" stroke="#15A37B" stroke-width="1.4" />
<polyline points="341.2,292.0 352.3,289.8 363.4,286.0 374.6,286.6 385.7,286.6 396.8,279.2 407.9,281.6 419.0,280.2 430.2,277.8 441.3,274.2 452.4,275.4 463.5,277.1 474.6,277.8 485.8,285.0" fill="none" stroke="#15A37B" stroke-width="1.35" stroke-linejoin="round"/>
<circle cx="341.2" cy="292.0" r="1.9" fill="#15A37B"/>
<circle cx="352.3" cy="289.8" r="1.9" fill="#15A37B"/>
<circle cx="363.4" cy="286.0" r="1.9" fill="#15A37B"/>
<circle cx="374.6" cy="286.6" r="1.9" fill="#15A37B"/>
<circle cx="385.7" cy="286.6" r="1.9" fill="#15A37B"/>
<circle cx="396.8" cy="279.2" r="1.9" fill="#15A37B"/>
<circle cx="407.9" cy="281.6" r="1.9" fill="#15A37B"/>
<circle cx="419.0" cy="280.2" r="1.9" fill="#15A37B"/>
<circle cx="430.2" cy="277.8" r="1.9" fill="#15A37B"/>
<circle cx="441.3" cy="274.2" r="1.9" fill="#15A37B"/>
<circle cx="452.4" cy="275.4" r="1.9" fill="#15A37B"/>
<circle cx="463.5" cy="277.1" r="1.9" fill="#15A37B"/>
<circle cx="474.6" cy="277.8" r="1.9" fill="#15A37B"/>
<circle cx="485.8" cy="285.0" r="1.9" fill="#15A37B"/>
<line x1="352.32" y1="286.5" x2="352.32" y2="292.5" stroke="#68C2EA" stroke-width="1.2" />
<line x1="349.92" y1="286.5" x2="354.71999999999997" y2="286.5" stroke="#68C2EA" stroke-width="1.4" />
<line x1="349.92" y1="292.5" x2="354.71999999999997" y2="292.5" stroke="#68C2EA" stroke-width="1.4" />
<line x1="363.44" y1="278.8" x2="363.44" y2="286.8" stroke="#68C2EA" stroke-width="1.2" />
<line x1="361.04" y1="278.8" x2="365.84" y2="278.8" stroke="#68C2EA" stroke-width="1.4" />
<line x1="361.04" y1="286.8" x2="365.84" y2="286.8" stroke="#68C2EA" stroke-width="1.4" />
<line x1="374.56" y1="281.8" x2="374.56" y2="289.8" stroke="#68C2EA" stroke-width="1.2" />
<line x1="372.16" y1="281.8" x2="376.96" y2="281.8" stroke="#68C2EA" stroke-width="1.4" />
<line x1="372.16" y1="289.8" x2="376.96" y2="289.8" stroke="#68C2EA" stroke-width="1.4" />
<line x1="385.68" y1="275.2" x2="385.68" y2="290.2" stroke="#68C2EA" stroke-width="1.2" />
<line x1="383.28000000000003" y1="275.2" x2="388.08" y2="275.2" stroke="#68C2EA" stroke-width="1.4" />
<line x1="383.28000000000003" y1="290.2" x2="388.08" y2="290.2" stroke="#68C2EA" stroke-width="1.4" />
<line x1="396.79999999999995" y1="268.6" x2="396.79999999999995" y2="281.6" stroke="#68C2EA" stroke-width="1.2" />
<line x1="394.4" y1="268.6" x2="399.19999999999993" y2="268.6" stroke="#68C2EA" stroke-width="1.4" />
<line x1="394.4" y1="281.6" x2="399.19999999999993" y2="281.6" stroke="#68C2EA" stroke-width="1.4" />
<line x1="407.91999999999996" y1="270.6" x2="407.91999999999996" y2="282.6" stroke="#68C2EA" stroke-width="1.2" />
<line x1="405.52" y1="270.6" x2="410.31999999999994" y2="270.6" stroke="#68C2EA" stroke-width="1.4" />
<line x1="405.52" y1="282.6" x2="410.31999999999994" y2="282.6" stroke="#68C2EA" stroke-width="1.4" />
<line x1="419.03999999999996" y1="269.6" x2="419.03999999999996" y2="280.6" stroke="#68C2EA" stroke-width="1.2" />
<line x1="416.64" y1="269.6" x2="421.43999999999994" y2="269.6" stroke="#68C2EA" stroke-width="1.4" />
<line x1="416.64" y1="280.6" x2="421.43999999999994" y2="280.6" stroke="#68C2EA" stroke-width="1.4" />
<line x1="430.15999999999997" y1="262" x2="430.15999999999997" y2="279" stroke="#68C2EA" stroke-width="1.2" />
<line x1="427.76" y1="262" x2="432.55999999999995" y2="262" stroke="#68C2EA" stroke-width="1.4" />
<line x1="427.76" y1="279" x2="432.55999999999995" y2="279" stroke="#68C2EA" stroke-width="1.4" />
<line x1="441.28" y1="257.8" x2="441.28" y2="274.8" stroke="#68C2EA" stroke-width="1.2" />
<line x1="438.88" y1="257.8" x2="443.67999999999995" y2="257.8" stroke="#68C2EA" stroke-width="1.4" />
<line x1="438.88" y1="274.8" x2="443.67999999999995" y2="274.8" stroke="#68C2EA" stroke-width="1.4" />
<line x1="452.4" y1="262.7" x2="452.4" y2="276.7" stroke="#68C2EA" stroke-width="1.2" />
<line x1="450.0" y1="262.7" x2="454.79999999999995" y2="262.7" stroke="#68C2EA" stroke-width="1.4" />
<line x1="450.0" y1="276.7" x2="454.79999999999995" y2="276.7" stroke="#68C2EA" stroke-width="1.4" />
<line x1="463.52" y1="260.3" x2="463.52" y2="277.3" stroke="#68C2EA" stroke-width="1.2" />
<line x1="461.12" y1="260.3" x2="465.91999999999996" y2="260.3" stroke="#68C2EA" stroke-width="1.4" />
<line x1="461.12" y1="277.3" x2="465.91999999999996" y2="277.3" stroke="#68C2EA" stroke-width="1.4" />
<line x1="474.64" y1="261" x2="474.64" y2="279" stroke="#68C2EA" stroke-width="1.2" />
<line x1="472.24" y1="261" x2="477.03999999999996" y2="261" stroke="#68C2EA" stroke-width="1.4" />
<line x1="472.24" y1="279" x2="477.03999999999996" y2="279" stroke="#68C2EA" stroke-width="1.4" />
<line x1="485.76" y1="268.8" x2="485.76" y2="283.8" stroke="#68C2EA" stroke-width="1.2" />
<line x1="483.36" y1="268.8" x2="488.15999999999997" y2="268.8" stroke="#68C2EA" stroke-width="1.4" />
<line x1="483.36" y1="283.8" x2="488.15999999999997" y2="283.8" stroke="#68C2EA" stroke-width="1.4" />
<polyline points="341.2,292.0 352.3,289.5 363.4,282.8 374.6,285.8 385.7,285.2 396.8,276.6 407.9,277.6 419.0,275.6 430.2,273.0 441.3,268.8 452.4,271.7 463.5,271.3 474.6,273.0 485.8,277.8" fill="none" stroke="#68C2EA" stroke-width="1.35" stroke-linejoin="round"/>
<circle cx="341.2" cy="292.0" r="1.9" fill="#68C2EA"/>
<circle cx="352.3" cy="289.5" r="1.9" fill="#68C2EA"/>
<circle cx="363.4" cy="282.8" r="1.9" fill="#68C2EA"/>
<circle cx="374.6" cy="285.8" r="1.9" fill="#68C2EA"/>
<circle cx="385.7" cy="285.2" r="1.9" fill="#68C2EA"/>
<circle cx="396.8" cy="276.6" r="1.9" fill="#68C2EA"/>
<circle cx="407.9" cy="277.6" r="1.9" fill="#68C2EA"/>
<circle cx="419.0" cy="275.6" r="1.9" fill="#68C2EA"/>
<circle cx="430.2" cy="273.0" r="1.9" fill="#68C2EA"/>
<circle cx="441.3" cy="268.8" r="1.9" fill="#68C2EA"/>
<circle cx="452.4" cy="271.7" r="1.9" fill="#68C2EA"/>
<circle cx="463.5" cy="271.3" r="1.9" fill="#68C2EA"/>
<circle cx="474.6" cy="273.0" r="1.9" fill="#68C2EA"/>
<circle cx="485.8" cy="277.8" r="1.9" fill="#68C2EA"/>
<line x1="352.32" y1="290" x2="352.32" y2="294" stroke="#6F3F9E" stroke-width="1.2" />
<line x1="349.92" y1="290" x2="354.71999999999997" y2="290" stroke="#6F3F9E" stroke-width="1.4" />
<line x1="349.92" y1="294" x2="354.71999999999997" y2="294" stroke="#6F3F9E" stroke-width="1.4" />
<line x1="363.44" y1="285.7" x2="363.44" y2="295.7" stroke="#6F3F9E" stroke-width="1.2" />
<line x1="361.04" y1="285.7" x2="365.84" y2="285.7" stroke="#6F3F9E" stroke-width="1.4" />
<line x1="361.04" y1="295.7" x2="365.84" y2="295.7" stroke="#6F3F9E" stroke-width="1.4" />
<line x1="374.56" y1="280.2" x2="374.56" y2="307.2" stroke="#6F3F9E" stroke-width="1.2" />
<line x1="372.16" y1="280.2" x2="376.96" y2="280.2" stroke="#6F3F9E" stroke-width="1.4" />
<line x1="372.16" y1="307.2" x2="376.96" y2="307.2" stroke="#6F3F9E" stroke-width="1.4" />
<line x1="385.68" y1="299.5" x2="385.68" y2="321.5" stroke="#6F3F9E" stroke-width="1.2" />
<line x1="383.28000000000003" y1="299.5" x2="388.08" y2="299.5" stroke="#6F3F9E" stroke-width="1.4" />
<line x1="383.28000000000003" y1="321.5" x2="388.08" y2="321.5" stroke="#6F3F9E" stroke-width="1.4" />
<line x1="396.79999999999995" y1="312.3" x2="396.79999999999995" y2="325.3" stroke="#6F3F9E" stroke-width="1.2" />
<line x1="394.4" y1="312.3" x2="399.19999999999993" y2="312.3" stroke="#6F3F9E" stroke-width="1.4" />
<line x1="394.4" y1="325.3" x2="399.19999999999993" y2="325.3" stroke="#6F3F9E" stroke-width="1.4" />
<line x1="407.91999999999996" y1="324.7" x2="407.91999999999996" y2="346.7" stroke="#6F3F9E" stroke-width="1.2" />
<line x1="405.52" y1="324.7" x2="410.31999999999994" y2="324.7" stroke="#6F3F9E" stroke-width="1.4" />
<line x1="405.52" y1="346.7" x2="410.31999999999994" y2="346.7" stroke="#6F3F9E" stroke-width="1.4" />
<line x1="419.03999999999996" y1="337.8" x2="419.03999999999996" y2="351.8" stroke="#6F3F9E" stroke-width="1.2" />
<line x1="416.64" y1="337.8" x2="421.43999999999994" y2="337.8" stroke="#6F3F9E" stroke-width="1.4" />
<line x1="416.64" y1="351.8" x2="421.43999999999994" y2="351.8" stroke="#6F3F9E" stroke-width="1.4" />
<polyline points="341.2,292.0 352.3,292.0 363.4,290.7 374.6,293.2 385.7,308.5 396.8,318.3 407.9,335.7 419.0,344.8" fill="none" stroke="#6F3F9E" stroke-width="1.35" stroke-linejoin="round"/>
<circle cx="341.2" cy="292.0" r="1.9" fill="#6F3F9E"/>
<circle cx="352.3" cy="292.0" r="1.9" fill="#6F3F9E"/>
<circle cx="363.4" cy="290.7" r="1.9" fill="#6F3F9E"/>
<circle cx="374.6" cy="293.2" r="1.9" fill="#6F3F9E"/>
<circle cx="385.7" cy="308.5" r="1.9" fill="#6F3F9E"/>
<circle cx="396.8" cy="318.3" r="1.9" fill="#6F3F9E"/>
<circle cx="407.9" cy="335.7" r="1.9" fill="#6F3F9E"/>
<circle cx="419.0" cy="344.8" r="1.9" fill="#6F3F9E"/>
<line x1="352.32" y1="291.5" x2="352.32" y2="298.5" stroke="#F0AE2E" stroke-width="1.2" />
<line x1="349.92" y1="291.5" x2="354.71999999999997" y2="291.5" stroke="#F0AE2E" stroke-width="1.4" />
<line x1="349.92" y1="298.5" x2="354.71999999999997" y2="298.5" stroke="#F0AE2E" stroke-width="1.4" />
<line x1="363.44" y1="290.2" x2="363.44" y2="300.2" stroke="#F0AE2E" stroke-width="1.2" />
<line x1="361.04" y1="290.2" x2="365.84" y2="290.2" stroke="#F0AE2E" stroke-width="1.4" />
<line x1="361.04" y1="300.2" x2="365.84" y2="300.2" stroke="#F0AE2E" stroke-width="1.4" />
<line x1="374.56" y1="290.4" x2="374.56" y2="307.4" stroke="#F0AE2E" stroke-width="1.2" />
<line x1="372.16" y1="290.4" x2="376.96" y2="290.4" stroke="#F0AE2E" stroke-width="1.4" />
<line x1="372.16" y1="307.4" x2="376.96" y2="307.4" stroke="#F0AE2E" stroke-width="1.4" />
<line x1="385.68" y1="301" x2="385.68" y2="320" stroke="#F0AE2E" stroke-width="1.2" />
<line x1="383.28000000000003" y1="301" x2="388.08" y2="301" stroke="#F0AE2E" stroke-width="1.4" />
<line x1="383.28000000000003" y1="320" x2="388.08" y2="320" stroke="#F0AE2E" stroke-width="1.4" />
<line x1="396.79999999999995" y1="303.4" x2="396.79999999999995" y2="325.4" stroke="#F0AE2E" stroke-width="1.2" />
<line x1="394.4" y1="303.4" x2="399.19999999999993" y2="303.4" stroke="#F0AE2E" stroke-width="1.4" />
<line x1="394.4" y1="325.4" x2="399.19999999999993" y2="325.4" stroke="#F0AE2E" stroke-width="1.4" />
<line x1="407.91999999999996" y1="307.6" x2="407.91999999999996" y2="337.6" stroke="#F0AE2E" stroke-width="1.2" />
<line x1="405.52" y1="307.6" x2="410.31999999999994" y2="307.6" stroke="#F0AE2E" stroke-width="1.4" />
<line x1="405.52" y1="337.6" x2="410.31999999999994" y2="337.6" stroke="#F0AE2E" stroke-width="1.4" />
<line x1="419.03999999999996" y1="315.2" x2="419.03999999999996" y2="346.2" stroke="#F0AE2E" stroke-width="1.2" />
<line x1="416.64" y1="315.2" x2="421.43999999999994" y2="315.2" stroke="#F0AE2E" stroke-width="1.4" />
<line x1="416.64" y1="346.2" x2="421.43999999999994" y2="346.2" stroke="#F0AE2E" stroke-width="1.4" />
<line x1="430.15999999999997" y1="313" x2="430.15999999999997" y2="344" stroke="#F0AE2E" stroke-width="1.2" />
<line x1="427.76" y1="313" x2="432.55999999999995" y2="313" stroke="#F0AE2E" stroke-width="1.4" />
<line x1="427.76" y1="344" x2="432.55999999999995" y2="344" stroke="#F0AE2E" stroke-width="1.4" />
<line x1="441.28" y1="310.2" x2="441.28" y2="349.2" stroke="#F0AE2E" stroke-width="1.2" />
<line x1="438.88" y1="310.2" x2="443.67999999999995" y2="310.2" stroke="#F0AE2E" stroke-width="1.4" />
<line x1="438.88" y1="349.2" x2="443.67999999999995" y2="349.2" stroke="#F0AE2E" stroke-width="1.4" />
<line x1="452.4" y1="297.1" x2="452.4" y2="339.1" stroke="#F0AE2E" stroke-width="1.2" />
<line x1="450.0" y1="297.1" x2="454.79999999999995" y2="297.1" stroke="#F0AE2E" stroke-width="1.4" />
<line x1="450.0" y1="339.1" x2="454.79999999999995" y2="339.1" stroke="#F0AE2E" stroke-width="1.4" />
<line x1="463.52" y1="281.5" x2="463.52" y2="318.5" stroke="#F0AE2E" stroke-width="1.2" />
<line x1="461.12" y1="281.5" x2="465.91999999999996" y2="281.5" stroke="#F0AE2E" stroke-width="1.4" />
<line x1="461.12" y1="318.5" x2="465.91999999999996" y2="318.5" stroke="#F0AE2E" stroke-width="1.4" />
<line x1="474.64" y1="274.5" x2="474.64" y2="307.5" stroke="#F0AE2E" stroke-width="1.2" />
<line x1="472.24" y1="274.5" x2="477.03999999999996" y2="274.5" stroke="#F0AE2E" stroke-width="1.4" />
<line x1="472.24" y1="307.5" x2="477.03999999999996" y2="307.5" stroke="#F0AE2E" stroke-width="1.4" />
<line x1="485.76" y1="274.4" x2="485.76" y2="301.4" stroke="#F0AE2E" stroke-width="1.2" />
<line x1="483.36" y1="274.4" x2="488.15999999999997" y2="274.4" stroke="#F0AE2E" stroke-width="1.4" />
<line x1="483.36" y1="301.4" x2="488.15999999999997" y2="301.4" stroke="#F0AE2E" stroke-width="1.4" />
<polyline points="341.2,292.0 352.3,294.5 363.4,294.2 374.6,298.4 385.7,309.0 396.8,314.4 407.9,322.6 419.0,330.2 430.2,328.0 441.3,329.2 452.4,318.1 463.5,299.5 474.6,291.5 485.8,287.4" fill="none" stroke="#F0AE2E" stroke-width="1.35" stroke-linejoin="round"/>
<circle cx="341.2" cy="292.0" r="1.9" fill="#F0AE2E"/>
<circle cx="352.3" cy="294.5" r="1.9" fill="#F0AE2E"/>
<circle cx="363.4" cy="294.2" r="1.9" fill="#F0AE2E"/>
<circle cx="374.6" cy="298.4" r="1.9" fill="#F0AE2E"/>
<circle cx="385.7" cy="309.0" r="1.9" fill="#F0AE2E"/>
<circle cx="396.8" cy="314.4" r="1.9" fill="#F0AE2E"/>
<circle cx="407.9" cy="322.6" r="1.9" fill="#F0AE2E"/>
<circle cx="419.0" cy="330.2" r="1.9" fill="#F0AE2E"/>
<circle cx="430.2" cy="328.0" r="1.9" fill="#F0AE2E"/>
<circle cx="441.3" cy="329.2" r="1.9" fill="#F0AE2E"/>
<circle cx="452.4" cy="318.1" r="1.9" fill="#F0AE2E"/>
<circle cx="463.5" cy="299.5" r="1.9" fill="#F0AE2E"/>
<circle cx="474.6" cy="291.5" r="1.9" fill="#F0AE2E"/>
<circle cx="485.8" cy="287.4" r="1.9" fill="#F0AE2E"/>
<line x1="352.32" y1="287.8" x2="352.32" y2="293.8" stroke="#7A7A7A" stroke-width="1.2" />
<line x1="349.92" y1="287.8" x2="354.71999999999997" y2="287.8" stroke="#7A7A7A" stroke-width="1.4" />
<line x1="349.92" y1="293.8" x2="354.71999999999997" y2="293.8" stroke="#7A7A7A" stroke-width="1.4" />
<line x1="363.44" y1="282.8" x2="363.44" y2="288.8" stroke="#7A7A7A" stroke-width="1.2" />
<line x1="361.04" y1="282.8" x2="365.84" y2="282.8" stroke="#7A7A7A" stroke-width="1.4" />
<line x1="361.04" y1="288.8" x2="365.84" y2="288.8" stroke="#7A7A7A" stroke-width="1.4" />
<line x1="374.56" y1="284.2" x2="374.56" y2="292.2" stroke="#7A7A7A" stroke-width="1.2" />
<line x1="372.16" y1="284.2" x2="376.96" y2="284.2" stroke="#7A7A7A" stroke-width="1.4" />
<line x1="372.16" y1="292.2" x2="376.96" y2="292.2" stroke="#7A7A7A" stroke-width="1.4" />
<line x1="385.68" y1="288" x2="385.68" y2="297" stroke="#7A7A7A" stroke-width="1.2" />
<line x1="383.28000000000003" y1="288" x2="388.08" y2="288" stroke="#7A7A7A" stroke-width="1.4" />
<line x1="383.28000000000003" y1="297" x2="388.08" y2="297" stroke="#7A7A7A" stroke-width="1.4" />
<line x1="396.79999999999995" y1="277.8" x2="396.79999999999995" y2="286.8" stroke="#7A7A7A" stroke-width="1.2" />
<line x1="394.4" y1="277.8" x2="399.19999999999993" y2="277.8" stroke="#7A7A7A" stroke-width="1.4" />
<line x1="394.4" y1="286.8" x2="399.19999999999993" y2="286.8" stroke="#7A7A7A" stroke-width="1.4" />
<line x1="407.91999999999996" y1="279.2" x2="407.91999999999996" y2="287.2" stroke="#7A7A7A" stroke-width="1.2" />
<line x1="405.52" y1="279.2" x2="410.31999999999994" y2="279.2" stroke="#7A7A7A" stroke-width="1.4" />
<line x1="405.52" y1="287.2" x2="410.31999999999994" y2="287.2" stroke="#7A7A7A" stroke-width="1.4" />
<line x1="419.03999999999996" y1="276.2" x2="419.03999999999996" y2="286.2" stroke="#7A7A7A" stroke-width="1.2" />
<line x1="416.64" y1="276.2" x2="421.43999999999994" y2="276.2" stroke="#7A7A7A" stroke-width="1.4" />
<line x1="416.64" y1="286.2" x2="421.43999999999994" y2="286.2" stroke="#7A7A7A" stroke-width="1.4" />
<line x1="430.15999999999997" y1="276.2" x2="430.15999999999997" y2="285.2" stroke="#7A7A7A" stroke-width="1.2" />
<line x1="427.76" y1="276.2" x2="432.55999999999995" y2="276.2" stroke="#7A7A7A" stroke-width="1.4" />
<line x1="427.76" y1="285.2" x2="432.55999999999995" y2="285.2" stroke="#7A7A7A" stroke-width="1.4" />
<line x1="441.28" y1="276.2" x2="441.28" y2="285.2" stroke="#7A7A7A" stroke-width="1.2" />
<line x1="438.88" y1="276.2" x2="443.67999999999995" y2="276.2" stroke="#7A7A7A" stroke-width="1.4" />
<line x1="438.88" y1="285.2" x2="443.67999999999995" y2="285.2" stroke="#7A7A7A" stroke-width="1.4" />
<line x1="452.4" y1="271.6" x2="452.4" y2="281.6" stroke="#7A7A7A" stroke-width="1.2" />
<line x1="450.0" y1="271.6" x2="454.79999999999995" y2="271.6" stroke="#7A7A7A" stroke-width="1.4" />
<line x1="450.0" y1="281.6" x2="454.79999999999995" y2="281.6" stroke="#7A7A7A" stroke-width="1.4" />
<line x1="463.52" y1="272.6" x2="463.52" y2="281.6" stroke="#7A7A7A" stroke-width="1.2" />
<line x1="461.12" y1="272.6" x2="465.91999999999996" y2="272.6" stroke="#7A7A7A" stroke-width="1.4" />
<line x1="461.12" y1="281.6" x2="465.91999999999996" y2="281.6" stroke="#7A7A7A" stroke-width="1.4" />
<line x1="474.64" y1="272.8" x2="474.64" y2="282.8" stroke="#7A7A7A" stroke-width="1.2" />
<line x1="472.24" y1="272.8" x2="477.03999999999996" y2="272.8" stroke="#7A7A7A" stroke-width="1.4" />
<line x1="472.24" y1="282.8" x2="477.03999999999996" y2="282.8" stroke="#7A7A7A" stroke-width="1.4" />
<line x1="485.76" y1="278.6" x2="485.76" y2="287.6" stroke="#7A7A7A" stroke-width="1.2" />
<line x1="483.36" y1="278.6" x2="488.15999999999997" y2="278.6" stroke="#7A7A7A" stroke-width="1.4" />
<line x1="483.36" y1="287.6" x2="488.15999999999997" y2="287.6" stroke="#7A7A7A" stroke-width="1.4" />
<polyline points="341.2,292.0 352.3,290.8 363.4,285.8 374.6,288.2 385.7,292.0 396.8,281.8 407.9,282.2 419.0,280.2 430.2,280.2 441.3,280.2 452.4,276.6 463.5,276.6 474.6,277.8 485.8,282.6" fill="none" stroke="#7A7A7A" stroke-width="1.35" stroke-linejoin="round"/>
<circle cx="341.2" cy="292.0" r="1.9" fill="#7A7A7A"/>
<circle cx="352.3" cy="290.8" r="1.9" fill="#7A7A7A"/>
<circle cx="363.4" cy="285.8" r="1.9" fill="#7A7A7A"/>
<circle cx="374.6" cy="288.2" r="1.9" fill="#7A7A7A"/>
<circle cx="385.7" cy="292.0" r="1.9" fill="#7A7A7A"/>
<circle cx="396.8" cy="281.8" r="1.9" fill="#7A7A7A"/>
<circle cx="407.9" cy="282.2" r="1.9" fill="#7A7A7A"/>
<circle cx="419.0" cy="280.2" r="1.9" fill="#7A7A7A"/>
<circle cx="430.2" cy="280.2" r="1.9" fill="#7A7A7A"/>
<circle cx="441.3" cy="280.2" r="1.9" fill="#7A7A7A"/>
<circle cx="452.4" cy="276.6" r="1.9" fill="#7A7A7A"/>
<circle cx="463.5" cy="276.6" r="1.9" fill="#7A7A7A"/>
<circle cx="474.6" cy="277.8" r="1.9" fill="#7A7A7A"/>
<circle cx="485.8" cy="282.6" r="1.9" fill="#7A7A7A"/>
</svg></body></html>
